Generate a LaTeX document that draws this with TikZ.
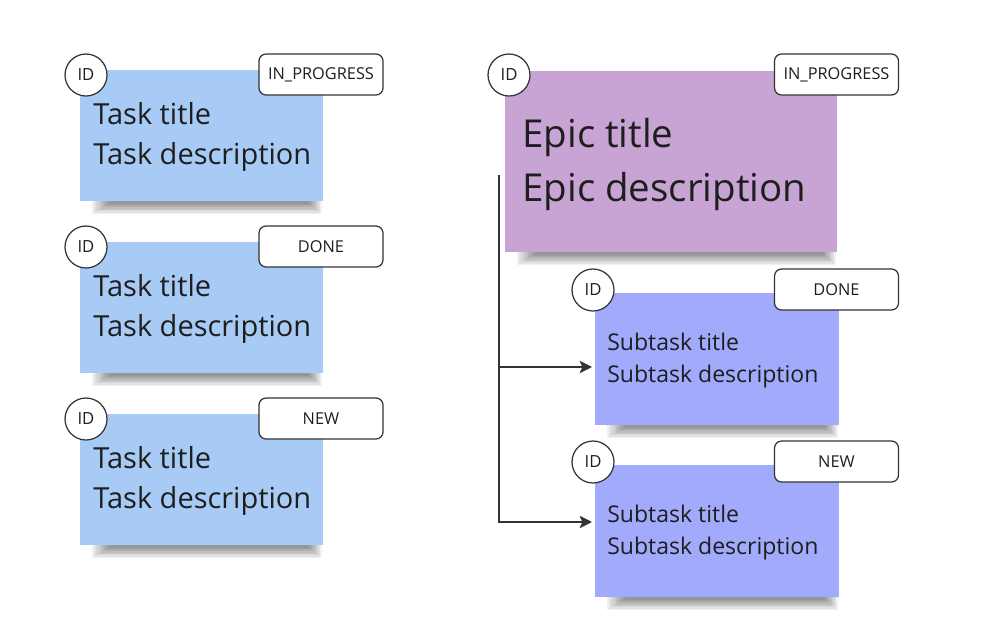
\documentclass[tikz,border=0pt]{standalone}
\usepackage{fontspec}
\setmainfont{Open Sans}
\usetikzlibrary{arrows.meta,calc}
\definecolor{taskblue}{HTML}{A7CBF4}
\definecolor{epicpurple}{HTML}{C8A4D4}
\definecolor{subblue}{HTML}{A2AAFB}
\definecolor{ink}{HTML}{1E1E1E}
\definecolor{edge}{HTML}{333333}

% soft shadow under a note: stacked translucent bands, narrower towards the core
\newcommand{\castshadow}[1]{%
  \foreach \k in {0,...,8}{%
    \fill[black, opacity=0.055]
      ($(#1.south west)+(12+2.2*\k,-2)$) rectangle ($(#1.south east)+(-1-1.6*\k,13-1.3*\k)$);
  }%
}

\begin{document}
\begin{tikzpicture}[x=0.02cm,y=-0.02cm,
  sticky/.style={rectangle, inner sep=0pt, outer sep=0pt, anchor=north west},
  task/.style={sticky, fill=taskblue, minimum width=4.86cm, minimum height=2.62cm},
  epic/.style={sticky, fill=epicpurple, minimum width=6.64cm, minimum height=3.62cm},
  subtask/.style={sticky, fill=subblue, minimum width=4.88cm, minimum height=2.64cm},
  idbadge/.style={circle, draw=edge, line width=0.7pt, fill=white,
      minimum size=0.84cm, inner sep=0pt, text=ink,
      font=\fontsize{9.5}{11}\selectfont},
  status/.style={rectangle, rounded corners=4pt, draw=edge, line width=0.7pt,
      fill=white, minimum width=2.48cm, minimum height=0.82cm, inner sep=0pt,
      text=ink, font=\fontsize{9.3}{11}\selectfont},
  tasktext/.style={anchor=base west, inner sep=0pt, text=ink,
      font=\fontsize{16.5}{20}\selectfont},
  epictext/.style={anchor=base west, inner sep=0pt, text=ink,
      font=\fontsize{21.9}{26}\selectfont},
  subtext/.style={anchor=base west, inner sep=0pt, text=ink,
      font=\fontsize{13.1}{16}\selectfont},
  conn/.style={draw=edge, line width=1.1pt,
      -{Stealth[length=7pt,width=7pt,inset=1.5pt]}}
]
\fill[white] (0,0) rectangle (1000,640);
\useasboundingbox (0,0) rectangle (1000,640);

% ---- note bodies (invisible first pass fixes the anchors for shadows) ----
\path (80,70)  node[task, fill=none] (t1) {};
\path (80,242) node[task, fill=none] (t2) {};
\path (80,414) node[task, fill=none] (t3) {};
\path (505,71) node[epic, fill=none] (ep) {};
\path (595,293) node[subtask, fill=none] (s1) {};
\path (595,465) node[subtask, fill=none] (s2) {};

\castshadow{t1}
\castshadow{t2}
\castshadow{t3}
\castshadow{ep}
\castshadow{s1}
\castshadow{s2}

\fill[taskblue] (t1.north west) rectangle (t1.south east);
\fill[taskblue] (t2.north west) rectangle (t2.south east);
\fill[taskblue] (t3.north west) rectangle (t3.south east);
\fill[epicpurple] (ep.north west) rectangle (ep.south east);
\fill[subblue] (s1.north west) rectangle (s1.south east);
\fill[subblue] (s2.north west) rectangle (s2.south east);

% ---- stand-alone tasks ----
\node[tasktext] (t1title) at (93,124) {Task title};
\node[tasktext] (t1desc)  at (93,164) {Task description};
\node[tasktext] (t2title) at (93,296) {Task title};
\node[tasktext] (t2desc)  at (93,336) {Task description};
\node[tasktext] (t3title) at (93,468) {Task title};
\node[tasktext] (t3desc)  at (93,508) {Task description};

\node[idbadge] (t1id) at (86,75)  {ID};
\node[idbadge] (t2id) at (86,247) {ID};
\node[idbadge] (t3id) at (86,419) {ID};
\node[status] (t1st) at (321,74.5)  {IN\_PROGRESS};
\node[status] (t2st) at (321,246.5) {DONE};
\node[status] (t3st) at (321,418.5) {NEW};

% ---- epic with its subtasks ----
\node[epictext] (eptitle) at (522,147) {Epic title};
\node[epictext] (epdesc)  at (522,201) {Epic description};
\node[subtext] (s1title) at (607,350) {Subtask title};
\node[subtext] (s1desc)  at (607,382) {Subtask description};
\node[subtext] (s2title) at (607,522) {Subtask title};
\node[subtext] (s2desc)  at (607,554) {Subtask description};

\node[idbadge] (epid) at (509,75)  {ID};
\node[idbadge] (s1id) at (593,290) {ID};
\node[idbadge] (s2id) at (593,462) {ID};
\node[status] (epst) at (836.5,74.5)  {IN\_PROGRESS};
\node[status] (s1st) at (836.5,289.5) {DONE};
\node[status] (s2st) at (836.5,461.5) {NEW};

% ---- hierarchy connectors ----
\coordinate (trunk) at (499,175);
\coordinate (a1) at ($(s1.west)+(-3,8)$);
\coordinate (a2) at ($(s2.west)+(-3,-9)$);
\draw[conn] (trunk) |- (a2);
\draw[conn] (trunk |- a1) -- (a1);
\end{tikzpicture}
\end{document}
